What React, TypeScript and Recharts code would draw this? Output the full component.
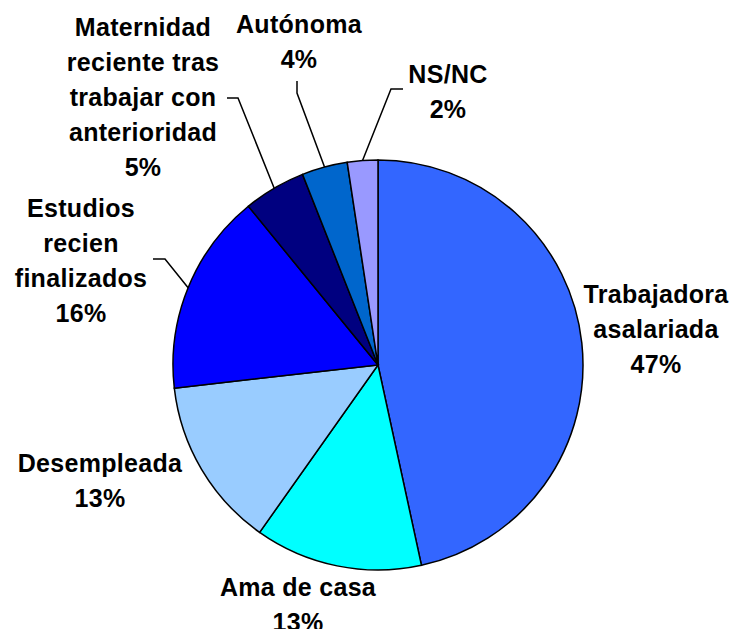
import { PieChart, Pie, Cell } from "recharts";

// ──────────────────────────────────────────────
// Data
// ──────────────────────────────────────────────

const categories = [
  "Trabajadora asalariada",
  "Ama de casa",
  "Desempleada",
  "Estudios recien finalizados",
  "Maternidad reciente tras trabajar con anterioridad",
  "Autónoma",
  "NS/NC",
];

const values = [46.6, 13.2, 13.4, 15.9, 4.9, 3.6, 2.4];

const percentLabels = ["47%", "13%", "13%", "16%", "5%", "4%", "2%"];

const labelLines = [
  ["Trabajadora", "asalariada"],
  ["Ama de casa"],
  ["Desempleada"],
  ["Estudios", "recien", "finalizados"],
  ["Maternidad", "reciente tras", "trabajar con", "anterioridad"],
  ["Autónoma"],
  ["NS/NC"],
];

const colors = ["#3366FF", "#00FFFF", "#99CCFF", "#0000FF", "#000080", "#0066CC", "#9999FF"];

// ──────────────────────────────────────────────
// Layout (label placement, not data)
// ──────────────────────────────────────────────

const W = 735;
const H = 629;
const CX = 378;
const CY = 365;
const R = 205;
const FONT = 25;
const LINE_H = 35;

// x centre and baseline of first line for each label
const labelPos: { x: number; y: number }[] = [
  { x: 656, y: 303 },
  { x: 298, y: 596 },
  { x: 100, y: 472 },
  { x: 81, y: 217 },
  { x: 143, y: 36 },
  { x: 299, y: 33 },
  { x: 448, y: 83 },
];

// leader: elbow start and elbow corner (null = no leader)
const leaders: ([number, number, number, number] | null)[] = [
  null,
  null,
  null,
  [153, 259, 165, 259],
  [227, 98, 238, 98],
  [297, 81, 297, 93],
  [403, 89, 391, 89],
];

const RAD = Math.PI / 180;

const data = categories.map((name, i) => ({ name, value: values[i] }));

function renderLabel(props: any) {
  const { cx, cy, midAngle, outerRadius, index } = props;
  const pos = labelPos[index];
  const lines = [...labelLines[index], percentLabels[index]];
  const leader = leaders[index];
  let path = null;
  if (leader) {
    const ex = cx + outerRadius * Math.cos(-midAngle * RAD);
    const ey = cy + outerRadius * Math.sin(-midAngle * RAD);
    path = (
      <polyline
        points={`${leader[0]},${leader[1]} ${leader[2]},${leader[3]} ${ex},${ey}`}
        fill="none"
        stroke="#000"
        strokeWidth={1.5}
      />
    );
  }
  return (
    <g key={`lbl-${index}`}>
      {path}
      <text
        x={pos.x}
        y={pos.y}
        textAnchor="middle"
        fontFamily="'Liberation Sans', Arial, sans-serif"
        fontWeight="bold"
        fontSize={FONT}
        letterSpacing={0.3}
        fill="#000"
      >
        {lines.map((l, j) => (
          <tspan key={j} x={pos.x} y={pos.y + j * LINE_H}>
            {l}
          </tspan>
        ))}
      </text>
    </g>
  );
}

// ──────────────────────────────────────────────
// Component
// ──────────────────────────────────────────────

export default function App() {
  return (
    <div style={{ position: "absolute", left: 0, top: 0, width: W, height: H, background: "#fff" }}>
      <PieChart width={W} height={H} margin={{ top: 0, right: 0, bottom: 0, left: 0 }}>
        <Pie
          data={data}
          dataKey="value"
          nameKey="name"
          cx={CX}
          cy={CY}
          outerRadius={R}
          startAngle={90}
          endAngle={-270}
          stroke="#000"
          strokeWidth={1.5}
          labelLine={false}
          label={renderLabel}
          isAnimationActive={false}
        >
          {data.map((d, i) => (
            <Cell key={d.name} fill={colors[i]} />
          ))}
        </Pie>
      </PieChart>
    </div>
  );
}
